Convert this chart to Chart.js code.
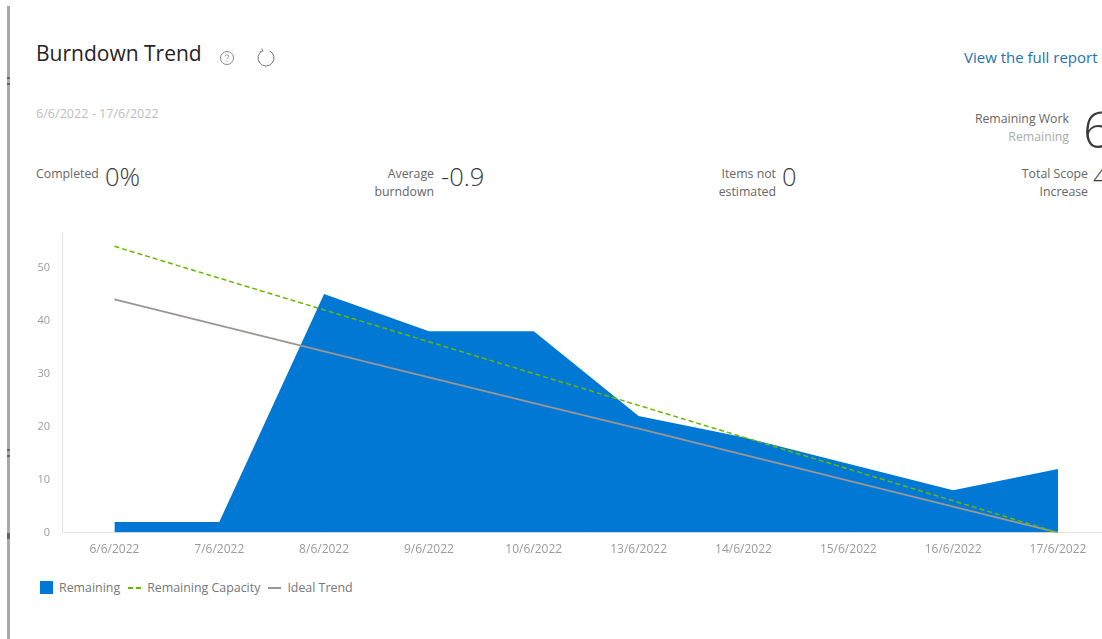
<!DOCTYPE html>
<html>
<head>
<meta charset="utf-8">
<title>Burndown Trend</title>
<script src="https://cdn.jsdelivr.net/npm/chart.js@4"></script>
<style>
    html, body { margin: 0; padding: 0; background: #fff; }
    body { position: relative; width: 1102px; height: 639px; overflow: hidden; font-family: "Open Sans", sans-serif; }
    .side-bar { position: absolute; left: 7px; top: 6px; width: 3px; height: 633px; background: #a8a8a8; }
    .side-mark { position: absolute; left: 7px; width: 3px; height: 2px; background: #666; }
    .txt { position: absolute; white-space: nowrap; line-height: 1; }
    .title { left: 36px; top: 43px; font-size: 21px; color: #252423; }
    .link { left: 964px; top: 50px; font-size: 15px; color: #2272b5; }
    .range { left: 36px; top: 108px; font-size: 12.6px; color: #bdbdbd; }
    .label { font-size: 12.3px; color: #666; text-align: right; line-height: 18px; }
    .label .dim { color: #aaa; }
    .num { font-size: 25.5px; color: #3a3a3a; font-weight: 300; }
    .icon { position: absolute; }
    #chart-wrap { position: absolute; left: 0; top: 219px; width: 1140px; height: 348px; }
    #legend { position: absolute; left: 40px; top: 579px; display: flex; align-items: center; font-size: 12.4px; color: #777; }
    #legend .item { display: flex; align-items: center; margin-right: 8px; }
    #legend .swatch { margin-right: 6px; }
</style>
</head>
<body>
    <div class="side-bar"></div>
    <div class="side-mark" style="top:77px"></div>
    <div class="side-mark" style="top:83px"></div>
    <div class="side-mark" style="top:449px"></div>
    <div class="side-mark" style="top:455px"></div>
    <div class="side-mark" style="top:533px;height:6px"></div>

    <div class="txt title">Burndown Trend</div>
    <svg class="icon" style="left:218px;top:49px" width="18" height="18" viewBox="0 0 18 18" fill="none" stroke="#888" stroke-width="1">
        <circle cx="9" cy="9" r="6.5"></circle>
        <path d="M7.2 7.4c0-2.2 3.6-2.2 3.6 0 0 1.4-1.8 1.4-1.8 2.8M9 11.6v1"></path>
    </svg>
    <svg class="icon" style="left:256px;top:47px" width="20" height="20" viewBox="0 0 20 20" fill="none" stroke="#777" stroke-width="1">
        <path d="M6.5 3.8A8 8 0 1 0 13.5 3.8M6 1.5l.8 2.6-2.6.6"></path>
    </svg>
    <div class="txt link">View the full report</div>
    <div class="txt range">6/6/2022 - 17/6/2022</div>

    <div class="txt label" style="left:36px;top:165px">Completed</div>
    <div class="txt num" style="left:105px;top:164px">0%</div>

    <div class="txt label" style="right:668px;top:165px">Average<br>burndown</div>
    <div class="txt num" style="left:441px;top:164px">-0.9</div>

    <div class="txt label" style="right:326px;top:165px">Items not<br>estimated</div>
    <div class="txt num" style="left:782px;top:164px">0</div>

    <div class="txt label" style="right:33px;top:110px">Remaining Work<br><span class="dim">Remaining</span></div>
    <div class="txt num" style="left:1083px;top:104px;font-size:50px">6</div>

    <div class="txt label" style="right:14px;top:165px">Total Scope<br>Increase</div>
    <div class="txt num" style="left:1093px;top:164px">4</div>

    <div id="chart-wrap"><canvas id="burndown-chart"></canvas></div>
    <div id="legend"></div>

<script>
    const days = ['6/6/2022', '7/6/2022', '8/6/2022', '9/6/2022', '10/6/2022', '13/6/2022', '14/6/2022', '15/6/2022', '16/6/2022', '17/6/2022'];
    const remaining = [2, 2, 45, 38, 38, 22, 18, 13, 8, 12];
    const remainingCapacity = [54, 48, 42, 36, 30, 24, 18, 12, 6, 0];
    const idealTrend = [44, 39.1, 34.2, 29.3, 24.4, 19.6, 14.7, 9.8, 4.9, 0];
    const yTop = 56.4;

    const chart = new Chart(document.getElementById('burndown-chart'), {
        type: 'line',
        data: {
            labels: days,
            datasets: [
                {
                    label: 'Remaining',
                    data: remaining,
                    borderWidth: 0,
                    borderColor: '#0078d4',
                    backgroundColor: '#0078d4',
                    fill: 'origin',
                    pointRadius: 0,
                    tension: 0,
                    order: 3
                },
                {
                    label: 'Remaining Capacity',
                    data: remainingCapacity,
                    borderColor: '#6bb700',
                    backgroundColor: '#6bb700',
                    borderWidth: 1.5,
                    borderDash: [5, 3],
                    pointRadius: 0,
                    tension: 0,
                    order: 1
                },
                {
                    label: 'Ideal Trend',
                    data: idealTrend,
                    borderColor: '#9a9694',
                    backgroundColor: '#9a9694',
                    borderWidth: 1.8,
                    pointRadius: 0,
                    tension: 0,
                    order: 2
                }
            ]
        },
        options: {
            responsive: true,
            maintainAspectRatio: false,
            animation: false,
            layout: { padding: { top: 0, right: 29.6, bottom: 0, left: 0 } },
            plugins: {
                legend: { display: false },
                tooltip: { enabled: false }
            },
            scales: {
                x: {
                    offset: true,
                    grid: { display: false, drawTicks: false },
                    border: { color: '#e4e4e4' },
                    ticks: {
                        color: '#9a9a9a',
                        font: { family: '"Open Sans"', size: 12 },
                        padding: 10,
                        maxRotation: 0,
                        autoSkip: false
                    }
                },
                y: {
                    min: 0,
                    max: yTop,
                    afterFit: scale => { scale.width = 62; },
                    grid: { display: false, drawTicks: true, tickLength: 4, tickColor: '#e4e4e4' },
                    border: { color: '#e4e4e4' },
                    ticks: {
                        stepSize: 10,
                        includeBounds: false,
                        color: '#9a9a9a',
                        font: { family: '"Open Sans"', size: 11 },
                        padding: 8
                    }
                }
            }
        }
    });

    // Legend entries come from the chart's own datasets, in dataset order
    const legendEl = document.getElementById('legend');
    Chart.defaults.plugins.legend.labels.generateLabels(chart)
        .sort((a, b) => a.datasetIndex - b.datasetIndex)
        .forEach(item => {
            const row = document.createElement('div');
            row.className = 'item';
            const swatch = document.createElement('span');
            swatch.className = 'swatch';
            if (item.text === 'Remaining') {
                swatch.style.cssText = `width:13px;height:13px;background:${item.fillStyle}`;
            } else if (item.lineDash && item.lineDash.length) {
                swatch.style.cssText = `width:13px;height:2px;background:repeating-linear-gradient(90deg,${item.strokeStyle} 0 5px,transparent 5px 8px)`;
            } else {
                swatch.style.cssText = `width:13px;height:2px;background:${item.strokeStyle}`;
            }
            row.appendChild(swatch);
            row.appendChild(document.createTextNode(item.text));
            legendEl.appendChild(row);
        });
</script>
</body>
</html>
